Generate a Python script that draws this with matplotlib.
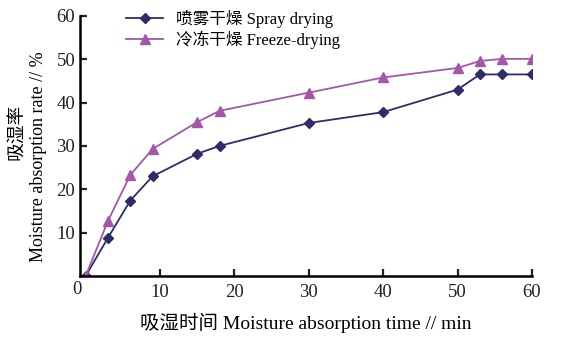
import matplotlib
matplotlib.use("Agg")
import matplotlib.pyplot as plt

time_min = [0, 3, 6, 9, 15, 18, 30, 40, 50, 53, 56, 60]
spray = [0, 8.8, 17.4, 23.0, 28.2, 30.0, 35.3, 37.8, 43.0, 46.5, 46.5, 46.5]
freeze = [0, 12.7, 23.3, 29.3, 35.5, 38.1, 42.3, 45.8, 48.0, 49.6, 50.1, 50.1]
x_ticks = [10, 20, 30, 40, 50, 60]
y_ticks = [10, 20, 30, 40, 50, 60]
labels = ["喷雾干燥 Spray drying", "冷冻干燥 Freeze-drying"]

plt.rcParams['font.family'] = ['Liberation Serif', 'Noto Sans CJK SC']

fig = plt.figure(figsize=(5.72, 3.39), dpi=100)
ax = fig.add_axes([0.14, 0.186, 0.79, 0.767])

ax.plot(time_min, spray, color='#2e2c6a', marker='D', markersize=5.5, lw=1.3, label=labels[0])
ax.plot(time_min, freeze, color='#a456a8', marker='^', markersize=7.5, lw=1.3, label=labels[1])

ax.set_xlim(-0.75, 60)
ax.set_ylim(0, 60)
ax.set_xticks(x_ticks)
ax.set_yticks(y_ticks)
for s in ['top', 'right']:
    ax.spines[s].set_visible(False)
for s in ['left', 'bottom']:
    ax.spines[s].set_linewidth(1.8)
ax.tick_params(direction='in', length=5, width=1.6, labelsize=13.5, colors='#222222')
ax.tick_params(axis='x', pad=6)
ax.text(-0.006, -0.02, "0", transform=ax.transAxes, fontsize=13.5, ha='center', va='top', color='#222222')

ax.set_xlabel("吸湿时间 Moisture absorption time // min", fontsize=14, labelpad=8)
fig.text(0.03, 0.61, "吸湿率", rotation=90, fontsize=13.5, ha='center', va='center')
fig.text(0.067, 0.537, "Moisture absorption rate // %", rotation=90, fontsize=13, ha='center', va='center')

ax.legend(loc='upper left', bbox_to_anchor=(0.08, 1.06), frameon=False, fontsize=12,
          handlelength=2.2, labelspacing=0.15, borderaxespad=0.2)

fig.savefig("out.png", dpi=100)
